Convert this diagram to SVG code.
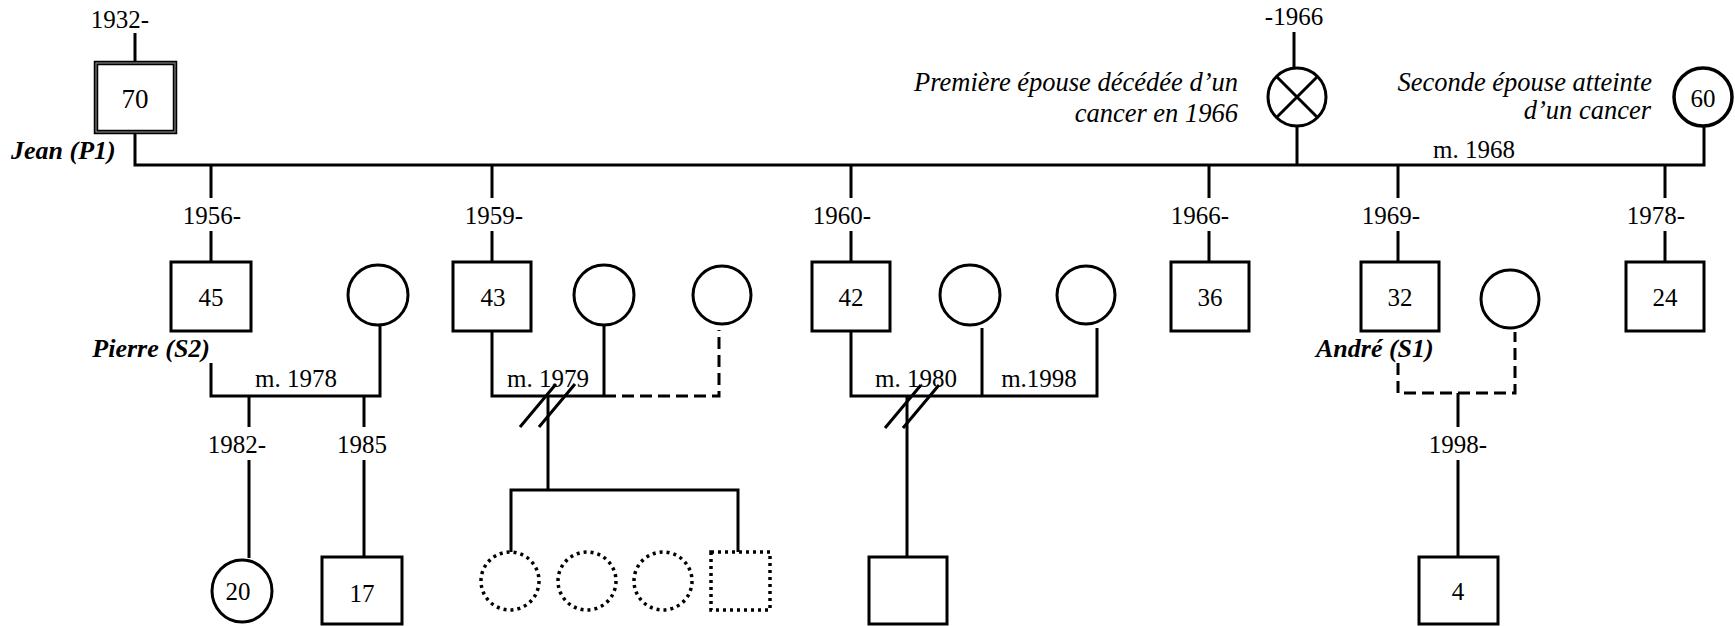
<svg xmlns="http://www.w3.org/2000/svg" width="1735" height="626" viewBox="0 0 1735 626">
  <style>
    .ln { fill: none; stroke: #000; stroke-width: 3; }
    .dash { fill: none; stroke: #000; stroke-width: 3; stroke-dasharray: 12 6; }
    .shape { fill: #fff; stroke: #000; stroke-width: 3; }
    .dot { fill: #fff; stroke: #000; stroke-width: 3.5; stroke-dasharray: 3 4; }
    text { font-family: "Liberation Serif", "Times New Roman", serif; fill: #000; }
    .yr { font-size: 25px; text-anchor: middle; }
    .num { font-size: 25px; text-anchor: middle; }
    .name { font-size: 26px; font-weight: bold; font-style: italic; }
    .note { font-size: 26.5px; font-style: italic; text-anchor: end; }
  </style>

  <!-- connectors -->
  <g id="connectors">
    <!-- Jean and his two wives -->
    <path class="ln" d="M135 33 V62"/>
    <path class="ln" d="M1294 32 V67"/>
    <path class="ln" d="M135 133 V165 H1704 V127"/>
    <path class="ln" d="M1297 127 V165"/>
    <!-- sibship drops -->
    <path class="ln" d="M211 165 V198 M211 231 V262"/>
    <path class="ln" d="M492 165 V198 M492 231 V262"/>
    <path class="ln" d="M851 165 V198 M851 231 V262"/>
    <path class="ln" d="M1209 165 V198 M1209 231 V262"/>
    <path class="ln" d="M1398 165 V198 M1398 231 V262"/>
    <path class="ln" d="M1665 165 V198 M1665 231 V262"/>

    <!-- Pierre's couple -->
    <path class="ln" d="M211 363 V396 H380 V326"/>
    <path class="ln" d="M249 396 V427 M249 460 V558"/>
    <path class="ln" d="M364 396 V427 M364 460 V557"/>

    <!-- second son: marriage 1979 (divorced) and later union -->
    <path class="ln" d="M492 331 V396 H604 M604 326 V396"/>
    <path class="dash" d="M604 396 H719 V330"/>
    <path class="ln" d="M520 427 L556 384 M539 427 L575 384"/>
    <path class="ln" d="M548 396 V490"/>
    <path class="ln" d="M511 552 V490 H738 V552"/>

    <!-- third son: marriage 1980 (divorced) and 1998 -->
    <path class="ln" d="M851 331 V396 H1097 V328 M982 328 V396"/>
    <path class="ln" d="M885 428 L921 385 M903 428 L939 385"/>
    <path class="ln" d="M907 396 V557"/>

    <!-- André's union -->
    <path class="dash" d="M1398 363 V393 H1515 V332"/>
    <path class="ln" d="M1458 393 V427 M1458 460 V557"/>
  </g>

  <!-- generation I -->
  <g id="jean">
    <rect x="96" y="63" width="79" height="69" fill="#fff" stroke="#000" stroke-width="4.5"/>
    <rect x="96" y="63" width="79" height="69" fill="none" stroke="#9a9a9a" stroke-width="1"/>
    <text class="yr" x="120" y="28">1932-</text>
    <text class="num" x="135" y="108" style="font-size:27px">70</text>
    <text class="name" x="11" y="159">Jean (P1)</text>
  </g>
  <g id="first-wife">
    <circle class="shape" cx="1297" cy="97" r="29"/>
    <path class="ln" d="M1276.5 76.5 L1317.5 117.5 M1317.5 76.5 L1276.5 117.5"/>
    <text class="yr" x="1294" y="25">-1966</text>
    <text class="note" x="1238" y="91">Première épouse décédée d’un</text>
    <text class="note" x="1238" y="122">cancer en 1966</text>
  </g>
  <g id="second-wife">
    <circle class="shape" cx="1703" cy="97" r="29" style="stroke-width:3.5"/>
    <text class="num" x="1703" y="107">60</text>
    <text class="note" x="1652" y="91">Seconde épouse atteinte</text>
    <text class="note" x="1651" y="119">d’un cancer</text>
  </g>
  <text class="yr" x="1474" y="158">m. 1968</text>

  <!-- generation II -->
  <g id="pierre">
    <rect class="shape" x="171" y="262" width="80" height="69"/>
    <text class="yr" x="212" y="224">1956-</text>
    <text class="num" x="211" y="306">45</text>
    <text class="name" x="210" y="357" text-anchor="end">Pierre (S2)</text>
  </g>
  <g id="pierre-wife">
    <circle class="shape" cx="378" cy="295" r="30"/>
  </g>
  <text class="yr" x="296" y="387">m. 1978</text>

  <g id="son-1959">
    <rect class="shape" x="453" y="262" width="78" height="69"/>
    <text class="yr" x="494" y="224">1959-</text>
    <text class="num" x="493" y="306">43</text>
  </g>
  <g id="son-1959-wife">
    <circle class="shape" cx="604" cy="295" r="30"/>
  </g>
  <g id="son-1959-partner">
    <circle class="shape" cx="722" cy="295" r="29"/>
  </g>
  <text class="yr" x="548" y="387">m. 1979</text>

  <g id="son-1960">
    <rect class="shape" x="812" y="262" width="78" height="69"/>
    <text class="yr" x="842" y="224">1960-</text>
    <text class="num" x="851" y="306">42</text>
  </g>
  <g id="son-1960-wife1">
    <circle class="shape" cx="970" cy="295" r="30"/>
  </g>
  <g id="son-1960-wife2">
    <circle class="shape" cx="1086" cy="295" r="29"/>
  </g>
  <text class="yr" x="916" y="387">m. 1980</text>
  <text class="yr" x="1039" y="387">m.1998</text>

  <g id="son-1966">
    <rect class="shape" x="1171" y="262" width="78" height="69"/>
    <text class="yr" x="1200" y="224">1966-</text>
    <text class="num" x="1210" y="306">36</text>
  </g>

  <g id="andre">
    <rect class="shape" x="1361" y="262" width="78" height="69"/>
    <text class="yr" x="1391" y="224">1969-</text>
    <text class="num" x="1400" y="306">32</text>
    <text class="name" x="1316" y="357">André (S1)</text>
  </g>
  <g id="andre-partner">
    <circle class="shape" cx="1510" cy="299" r="29"/>
  </g>

  <g id="son-1978">
    <rect class="shape" x="1626" y="262" width="78" height="69"/>
    <text class="yr" x="1656" y="224">1978-</text>
    <text class="num" x="1665" y="306">24</text>
  </g>

  <!-- generation III -->
  <g id="daughter-1982">
    <ellipse class="shape" cx="242" cy="591" rx="30" ry="31"/>
    <text class="yr" x="237" y="453">1982-</text>
    <text class="num" x="238" y="600">20</text>
  </g>
  <g id="son-1985">
    <rect class="shape" x="322" y="557" width="80" height="67"/>
    <text class="yr" x="362" y="453">1985</text>
    <text class="num" x="362" y="602">17</text>
  </g>

  <g id="unborn-1"><circle class="dot" cx="510" cy="581" r="29"/></g>
  <g id="unborn-2"><circle class="dot" cx="587" cy="581" r="29"/></g>
  <g id="unborn-3"><circle class="dot" cx="663" cy="581" r="29"/></g>
  <g id="unborn-4"><rect class="dot" x="711" y="552" width="59" height="58"/></g>

  <g id="son-1960-child">
    <rect class="shape" x="869" y="557" width="78" height="67"/>
  </g>

  <g id="andre-child">
    <rect class="shape" x="1419" y="557" width="79" height="67"/>
    <text class="yr" x="1458" y="453">1998-</text>
    <text class="num" x="1458" y="600">4</text>
  </g>
</svg>
